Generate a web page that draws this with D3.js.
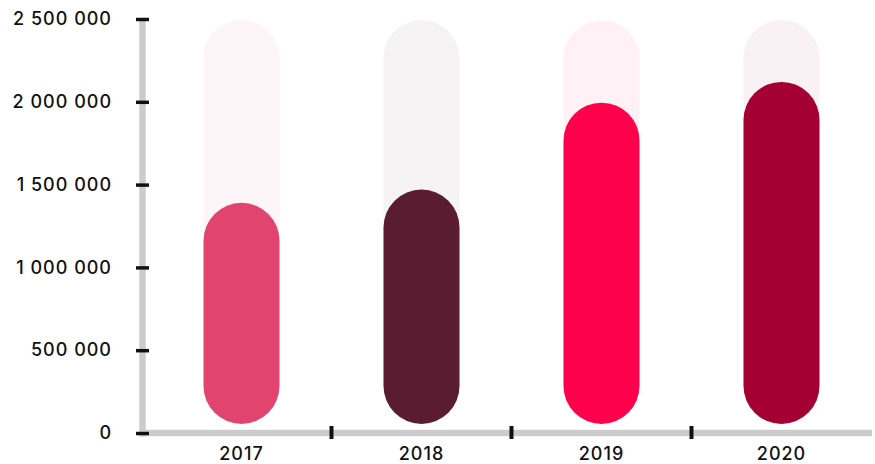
<!DOCTYPE html>
<html>
<head>
<meta charset="utf-8">
<script src="https://cdn.jsdelivr.net/npm/d3@7"></script>
<style>
  html, body { margin: 0; padding: 0; background: #fff; }
  svg { display: block; }
  text { font-family: Inter, "Open Sans", sans-serif; fill: #111; }
</style>
</head>
<body>
<svg id="chart" width="875" height="464"></svg>
<script>
const categories = ["2017", "2018", "2019", "2020"];
const values = [1390000, 1470000, 1995000, 2120000];
const barColors = ["#E0446F", "#5A1C30", "#FF004C", "#A50034"];
const yTicks = [0, 500000, 1000000, 1500000, 2000000, 2500000];
const yMax = 2500000;

const svg = d3.select("#chart");

const x = d3.scaleBand().domain(categories).range([151.5, 871.5]).paddingInner(0).paddingOuter(0);
const y = d3.scaleLinear().domain([0, yMax]).range([433, 19]);

const fmt = v => d3.format(",")(v).replace(/,/g, " ");

// gray axis lines
svg.append("line")
  .attr("x1", 142.5).attr("x2", 142.5)
  .attr("y1", y(yMax)).attr("y2", y(0) + 3.5)
  .attr("stroke", "#cccccc").attr("stroke-width", 6.5);
svg.append("line")
  .attr("x1", 139.3).attr("x2", 872)
  .attr("y1", y(0)).attr("y2", y(0))
  .attr("stroke", "#cccccc").attr("stroke-width", 6.5);

// bars
const barW = 76;
const bottomY = y(0) - 9;
const g = svg.append("g");
categories.forEach((c, i) => {
  const cx = x(c) + x.bandwidth() / 2;
  g.append("rect")
    .attr("x", cx - barW / 2).attr("width", barW)
    .attr("y", y(yMax) + 1).attr("height", bottomY - y(yMax) - 1)
    .attr("rx", barW / 2).attr("ry", barW / 2)
    .attr("fill", barColors[i]).attr("fill-opacity", 0.055);
  g.append("rect")
    .attr("x", cx - barW / 2).attr("width", barW)
    .attr("y", y(values[i])).attr("height", bottomY - y(values[i]))
    .attr("rx", barW / 2).attr("ry", barW / 2)
    .attr("fill", barColors[i]);
});

// y axis ticks + labels
const yAxis = d3.axisLeft(y).tickValues(yTicks).tickFormat(fmt).tickSize(13).tickPadding(24);
const ya = svg.append("g").attr("transform", "translate(149,0)").call(yAxis);
ya.select(".domain").remove();
ya.selectAll(".tick line").attr("stroke", "#111").attr("stroke-width", 3.5);
ya.selectAll(".tick text").attr("font-size", 18).attr("font-weight", 500)
  .style("letter-spacing", "1px")
  .style("font-family", "Inter, 'Open Sans', sans-serif").attr("fill", "#111");

// x axis labels
const xAxis = d3.axisBottom(x).tickSize(0).tickPadding(14);
const xa = svg.append("g").attr("transform", `translate(0,${y(0)})`).call(xAxis);
xa.select(".domain").remove();
xa.selectAll(".tick text").attr("font-size", 18).attr("font-weight", 500)
  .style("letter-spacing", "1px")
  .style("font-family", "Inter, 'Open Sans', sans-serif").attr("fill", "#111");

// x boundary ticks
svg.append("g").selectAll("line")
  .data(categories.slice(1))
  .join("line")
  .attr("x1", d => x(d)).attr("x2", d => x(d))
  .attr("y1", y(0) - 7).attr("y2", y(0) + 6)
  .attr("stroke", "#111").attr("stroke-width", 4);
</script>
</body>
</html>
